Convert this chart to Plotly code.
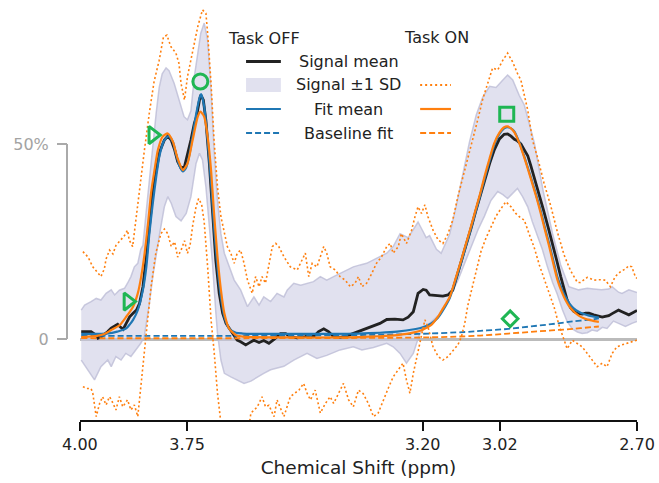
import plotly.graph_objects as go

# ---------------- data (chemical shift in ppm, signal in % ) ----------------
off_mean = [(3.997,1.9),(3.985,2.0),(3.974,1.9),(3.962,1.0),(3.958,0.2),(3.951,0.5),(3.947,0.8),(3.939,1.5),
 (3.935,1.9),(3.927,2.8),(3.919,3.3),(3.912,3.8),(3.907,3.2),(3.899,2.5),(3.892,4.0),(3.884,5.7),(3.876,6.6),
 (3.868,7.4),(3.861,9.1),(3.853,13.4),(3.845,21.1),(3.838,29.7),(3.830,37.4),(3.822,43.3),(3.814,48.0),
 (3.803,51.0),(3.795,52.0),(3.787,51.0),(3.779,48.5),(3.772,45.5),(3.764,43.8),(3.756,44.2),(3.749,47.2),
 (3.741,51.0),(3.733,55.3),(3.728,57.0),(3.721,61.3),(3.718,62.6),(3.712,61.3),(3.706,56.0),(3.698,45.0),
 (3.691,32.2),(3.683,20.3),(3.675,11.7),(3.667,6.6),(3.659,4.0),(3.648,2.2),(3.640,0.8),(3.633,-0.3),
 (3.625,-0.7),(3.617,-1.2),(3.613,-1.5),(3.605,-1.0),(3.594,-0.3),(3.582,-0.9),(3.571,-0.4),(3.559,-1.1),
 (3.547,-0.1),(3.532,1.4),(3.520,1.4),(3.509,0.6),(3.493,0.3),(3.474,0.6),(3.462,1.0),(3.455,0.6),(3.443,1.9),
 (3.431,2.6),(3.420,1.9),(3.408,0.6),(3.393,0.4),(3.377,0.8),(3.362,1.4),(3.346,2.1),(3.331,2.7),(3.315,3.3),
 (3.300,4.0),(3.284,5.0),(3.276,5.0),(3.265,5.1),(3.246,4.9),(3.234,5.6),(3.222,7.0),(3.211,11.7),(3.199,12.7),
 (3.192,12.5),(3.184,11.3),(3.168,11.1),(3.153,11.0),(3.141,11.3),(3.130,12.5),(3.122,15.5),(3.110,19.8),
 (3.099,24.0),(3.087,28.5),(3.077,32.5),(3.066,36.8),(3.056,40.8),(3.044,45.0),(3.033,48.5),(3.021,51.3),
 (3.010,52.5),(3.002,52.6),(2.994,52.0),(2.986,51.2),(2.979,50.8),(2.971,50.0),(2.963,48.5),(2.955,47.0),
 (2.948,44.5),(2.940,41.6),(2.929,37.5),(2.918,33.0),(2.907,28.5),(2.897,24.5),(2.887,20.0),(2.878,16.0),
 (2.870,12.5),(2.863,10.0),(2.855,8.0),(2.847,7.0),(2.839,6.6),(2.828,6.4),(2.820,6.6),(2.812,6.6),(2.801,6.2),
 (2.793,5.9),(2.781,5.6),(2.774,5.8),(2.766,6.0),(2.758,6.5),(2.751,7.0),(2.743,7.4),(2.735,7.0),(2.727,6.6),
 (2.719,6.2),(2.712,6.6),(2.704,7.0),(2.700,7.3)]

off_sd_hi = [(3.997,7.4),(3.989,8.7),(3.974,9.6),(3.962,10.4),(3.951,10.0),(3.939,11.7),(3.927,12.6),(3.919,11.3),
 (3.908,12.5),(3.896,13.0),(3.889,14.3),(3.881,16.0),(3.873,18.5),(3.865,19.4),(3.858,23.0),(3.853,24.0),
 (3.845,33.0),(3.838,41.0),(3.830,50.0),(3.822,58.0),(3.815,64.5),(3.808,68.0),(3.799,69.5),(3.792,68.8),
 (3.780,65.5),(3.769,61.5),(3.757,57.0),(3.749,56.2),(3.741,58.5),(3.733,67.3),(3.725,73.3),(3.718,78.4),
 (3.710,81.0),(3.702,76.7),(3.694,63.8),(3.687,48.5),(3.679,35.6),(3.671,27.0),(3.663,22.0),(3.652,18.5),
 (3.640,15.1),(3.625,12.6),(3.609,8.3),(3.594,10.8),(3.582,8.7),(3.571,10.8),(3.555,9.6),(3.540,11.7),
 (3.524,10.8),(3.516,12.6),(3.501,14.3),(3.485,13.8),(3.470,14.3),(3.455,14.7),(3.439,16.0),(3.424,15.1),
 (3.408,16.0),(3.393,16.8),(3.377,17.7),(3.362,18.5),(3.346,19.0),(3.331,19.4),(3.315,20.3),(3.300,21.1),
 (3.284,22.0),(3.269,23.7),(3.253,27.0),(3.234,26.0),(3.222,28.0),(3.211,30.0),(3.199,27.5),(3.192,26.0),
 (3.184,26.5),(3.168,23.0),(3.157,22.0),(3.145,25.0),(3.137,27.0),(3.122,34.0),(3.106,42.5),(3.091,50.5),
 (3.075,57.5),(3.060,62.0),(3.044,64.8),(3.029,64.5),(3.013,66.4),(3.002,67.7),(2.990,66.4),(2.975,62.5),
 (2.963,60.0),(2.948,54.0),(2.940,50.5),(2.919,38.0),(2.897,27.0),(2.878,19.0),(2.859,13.4),(2.836,12.6),
 (2.816,13.0),(2.801,12.8),(2.783,12.6),(2.766,12.8),(2.758,13.4),(2.743,12.0),(2.735,11.7),(2.719,12.6),
 (2.700,11.9)]

off_sd_lo = [(3.997,-5.4),(3.981,-7.9),(3.966,-10.5),(3.951,-7.1),(3.935,-5.4),(3.927,-7.1),(3.916,-4.5),
 (3.904,-5.4),(3.893,-3.7),(3.881,-4.5),(3.869,-2.8),(3.858,-1.1),(3.850,0.6),(3.845,4.0),(3.838,9.0),
 (3.830,16.0),(3.822,22.0),(3.814,27.0),(3.803,33.9),(3.795,36.5),(3.787,34.8),(3.776,31.4),(3.764,30.3),
 (3.752,32.2),(3.741,36.5),(3.729,45.0),(3.721,47.6),(3.714,45.9),(3.706,39.0),(3.698,29.0),(3.691,20.0),
 (3.683,7.0),(3.679,1.5),(3.671,-5.4),(3.663,-8.8),(3.648,-9.7),(3.633,-10.5),(3.617,-11.4),(3.601,-10.8),
 (3.586,-9.7),(3.571,-8.8),(3.555,-7.9),(3.540,-7.5),(3.524,-7.0),(3.501,-5.4),(3.470,-3.7),(3.447,-5.0),
 (3.424,-4.2),(3.393,-2.8),(3.362,-2.0),(3.342,-2.8),(3.315,-2.2),(3.284,-1.1),(3.269,-2.0),(3.253,-3.7),
 (3.238,-6.2),(3.222,-3.7),(3.207,1.4),(3.192,3.2),(3.176,4.9),(3.164,6.0),(3.145,9.0),(3.133,11.7),
 (3.118,15.0),(3.102,19.5),(3.087,23.7),(3.071,28.0),(3.056,31.5),(3.041,35.5),(3.025,37.8),(3.013,37.0),
 (3.002,36.0),(2.990,37.5),(2.979,38.6),(2.967,36.5),(2.955,33.9),(2.944,30.0),(2.932,26.2),(2.921,23.0),
 (2.909,18.5),(2.897,14.5),(2.886,11.5),(2.874,7.5),(2.863,4.5),(2.851,2.6),(2.839,1.8),(2.828,1.4),
 (2.816,1.6),(2.805,2.3),(2.793,2.0),(2.781,3.0),(2.770,2.7),(2.755,4.6),(2.743,4.0),(2.727,3.2),(2.712,4.0),
 (2.700,4.5)]

off_fit = [(3.997,1.3),(3.98,1.3),(3.96,1.3),(3.94,1.4),(3.93,1.5),(3.92,1.7),(3.91,2.0),(3.90,2.3),(3.892,2.7),
 (3.884,3.7),(3.876,4.9),(3.865,7.4),(3.853,12.6),(3.845,18.5),(3.838,27.0),(3.830,34.8),(3.822,41.6),
 (3.814,47.2),(3.803,51.0),(3.793,52.0),(3.783,50.5),(3.776,47.5),(3.768,44.5),(3.760,43.0),(3.752,44.0),
 (3.745,47.0),(3.737,52.0),(3.729,57.5),(3.721,61.8),(3.717,62.8),(3.710,59.6),(3.702,51.0),(3.694,40.0),
 (3.687,28.8),(3.679,18.5),(3.671,10.8),(3.663,5.7),(3.652,2.7),(3.636,1.6),(3.62,1.4),(3.60,1.3),(3.50,1.3),
 (3.40,1.3),(3.35,1.4),(3.30,1.6),(3.26,1.9),(3.22,2.5),(3.20,3.0),(3.18,4.0),(3.164,5.5),(3.153,7.3),
 (3.137,10.5),(3.122,15.5),(3.110,19.8),(3.099,24.0),(3.087,28.5),(3.077,32.5),(3.066,36.8),(3.056,41.0),
 (3.044,45.7),(3.033,49.8),(3.021,52.6),(3.010,54.0),(3.002,54.3),(2.994,54.0),(2.986,53.2),(2.975,50.5),
 (2.963,46.8),(2.948,41.6),(2.936,37.2),(2.925,33.0),(2.915,28.6),(2.905,24.5),(2.895,20.0),(2.886,16.0),
 (2.876,13.0),(2.867,10.8),(2.857,9.0),(2.847,7.8),(2.836,7.0),(2.824,6.4),(2.812,6.0),(2.800,5.7),(2.789,5.5)]

off_base = [(3.997,0.8),(3.80,0.8),(3.60,0.8),(3.50,0.85),(3.40,0.95),(3.30,1.1),(3.20,1.35),(3.10,1.8),
 (3.05,2.2),(3.00,2.6),(2.95,3.2),(2.90,3.8),(2.85,4.5),(2.80,5.1),(2.789,5.3)]

on_sd_hi = [(3.993,22.4),(3.981,21.0),(3.970,18.5),(3.958,16.8),(3.951,16.0),(3.943,18.0),(3.939,20.5),
 (3.931,22.8),(3.923,21.8),(3.916,24.0),(3.904,25.4),(3.896,26.5),(3.889,27.9),(3.885,25.4),(3.877,23.7),
 (3.869,31.0),(3.861,39.0),(3.850,48.0),(3.838,58.0),(3.827,66.0),(3.815,71.5),(3.805,77.5),(3.797,77.9),
 (3.788,75.0),(3.776,73.3),(3.769,70.7),(3.764,65.5),(3.756,61.3),(3.749,67.3),(3.737,74.1),(3.725,80.1),
 (3.714,84.4),(3.706,83.5),(3.702,78.4),(3.694,65.5),(3.687,51.0),(3.679,39.0),(3.671,31.4),(3.663,27.0),
 (3.656,23.7),(3.648,22.0),(3.640,19.4),(3.633,22.0),(3.625,22.8),(3.617,19.4),(3.609,15.1),(3.598,11.7),
 (3.590,16.0),(3.582,13.4),(3.575,16.0),(3.567,14.3),(3.559,19.4),(3.551,23.7),(3.543,24.5),(3.536,23.7),
 (3.524,21.1),(3.509,18.5),(3.493,17.7),(3.482,20.3),(3.474,22.0),(3.466,16.0),(3.458,19.4),(3.447,18.5),
 (3.439,21.1),(3.431,23.7),(3.424,22.0),(3.416,18.5),(3.404,17.7),(3.393,16.0),(3.381,15.1),(3.369,13.4),
 (3.358,14.3),(3.350,16.0),(3.342,13.4),(3.331,14.3),(3.319,16.8),(3.308,19.4),(3.296,21.1),(3.284,23.7),
 (3.276,24.5),(3.269,22.0),(3.257,23.7),(3.250,27.0),(3.238,24.5),(3.226,27.9),(3.218,31.4),(3.211,33.9),
 (3.203,32.2),(3.195,34.4),(3.188,31.4),(3.176,27.9),(3.164,25.4),(3.153,24.5),(3.141,27.0),(3.130,30.5),
 (3.118,36.5),(3.106,41.5),(3.095,46.5),(3.083,51.5),(3.071,56.5),(3.060,61.5),(3.048,66.0),(3.037,69.5),
 (3.025,69.0),(3.013,71.5),(3.002,73.3),(2.990,71.0),(2.979,68.1),(2.971,66.4),(2.955,58.7),(2.944,51.0),
 (2.932,46.5),(2.917,40.0),(2.901,34.0),(2.886,27.5),(2.870,21.5),(2.855,17.5),(2.839,14.5),(2.832,14.5),
 (2.816,15.8),(2.801,15.1),(2.785,15.2),(2.774,15.1),(2.762,13.4),(2.751,16.0),(2.739,17.2),(2.727,18.0),
 (2.719,18.8),(2.712,18.5),(2.704,16.0),(2.700,15.5)]

on_sd_lo = [(3.993,-12.2),(3.985,-12.7),(3.974,-12.7),(3.970,-13.9),(3.962,-19.9),(3.954,-16.5),(3.947,-14.8),
 (3.939,-16.9),(3.931,-14.8),(3.927,-15.5),(3.916,-18.2),(3.908,-14.8),(3.900,-17.4),(3.889,-15.6),
 (3.881,-18.2),(3.873,-16.9),(3.865,-19.9),(3.858,-11.4),(3.850,-3.7),(3.842,4.9),(3.834,13.4),(3.823,22.0),
 (3.811,27.0),(3.803,28.2),(3.795,27.0),(3.787,23.7),(3.779,24.9),(3.772,21.0),(3.764,22.8),(3.756,25.2),
 (3.749,22.0),(3.743,24.0),(3.737,29.0),(3.729,33.9),(3.723,36.0),(3.716,34.5),(3.710,30.0),(3.702,18.5),
 (3.694,4.9),(3.687,-3.0),(3.679,-13.9),(3.671,-21.5),(3.660,-28.0),(3.640,-31.0),(3.620,-27.0),(3.605,-22.0),
 (3.601,-19.0),(3.586,-17.4),(3.575,-14.8),(3.567,-17.4),(3.559,-17.0),(3.547,-19.9),(3.540,-15.6),
 (3.524,-19.9),(3.509,-14.8),(3.489,-13.1),(3.478,-11.4),(3.470,-13.9),(3.462,-15.6),(3.451,-13.1),
 (3.439,-19.0),(3.427,-16.5),(3.416,-14.8),(3.408,-16.5),(3.396,-13.9),(3.385,-11.4),(3.373,-15.6),
 (3.362,-17.4),(3.350,-13.1),(3.339,-14.0),(3.327,-16.5),(3.315,-19.9),(3.304,-19.0),(3.292,-15.6),
 (3.280,-12.5),(3.269,-9.7),(3.257,-7.9),(3.246,-6.2),(3.238,-10.5),(3.230,-13.9),(3.222,-8.8),(3.214,-4.5),
 (3.203,0.6),(3.195,4.9),(3.188,3.2),(3.176,-2.0),(3.164,-4.5),(3.153,-5.4),(3.141,-4.5),(3.130,-3.0),
 (3.118,-1.5),(3.110,0.5),(3.102,4.0),(3.095,8.5),(3.087,12.0),(3.075,17.0),(3.064,22.5),(3.052,26.0),
 (3.041,28.5),(3.029,31.5),(3.017,33.5),(3.006,35.2),(2.994,33.9),(2.983,32.2),(2.971,31.0),(2.963,30.5),
 (2.952,27.0),(2.940,23.5),(2.928,19.0),(2.917,15.5),(2.905,11.5),(2.893,8.0),(2.882,3.5),(2.870,-0.5),
 (2.863,-2.5),(2.851,-0.3),(2.839,-1.1),(2.828,-2.0),(2.816,-3.7),(2.805,-5.4),(2.793,-7.1),(2.781,-6.2),
 (2.770,-7.1),(2.758,-3.7),(2.747,-2.0),(2.735,-1.5),(2.723,-1.1),(2.712,-0.7),(2.700,-0.3)]

on_fit = [(3.997,0.5),(3.98,0.6),(3.96,0.8),(3.943,1.3),(3.927,2.3),(3.907,3.6),(3.892,5.7),(3.876,8.3),
 (3.865,11.7),(3.857,16.0),(3.849,22.0),(3.841,29.7),(3.834,37.4),(3.826,43.3),(3.818,48.5),(3.807,51.9),
 (3.795,52.7),(3.783,50.6),(3.772,46.3),(3.760,43.3),(3.749,45.0),(3.737,51.0),(3.725,57.0),(3.719,58.3),
 (3.710,57.0),(3.702,51.9),(3.694,43.3),(3.687,32.2),(3.679,21.1),(3.671,12.6),(3.663,6.6),(3.652,2.7),
 (3.636,1.0),(3.62,0.6),(3.60,0.5),(3.50,0.4),(3.40,0.4),(3.35,0.5),(3.30,0.7),(3.26,1.0),(3.22,1.7),
 (3.20,2.4),(3.18,3.6),(3.164,5.8),(3.153,7.8),(3.137,10.8),(3.122,16.0),(3.110,20.3),(3.099,24.5),
 (3.087,29.0),(3.077,33.0),(3.066,37.3),(3.056,41.6),(3.044,46.3),(3.033,50.2),(3.021,52.9),(3.010,54.3),
 (3.002,54.5),(2.994,54.0),(2.986,53.0),(2.975,50.3),(2.963,46.5),(2.948,41.2),(2.936,36.8),(2.925,32.4),
 (2.915,28.0),(2.905,23.8),(2.895,19.2),(2.886,15.3),(2.876,12.2),(2.867,10.0),(2.857,8.2),(2.847,7.0),
 (2.836,6.0),(2.824,5.3),(2.812,4.9),(2.800,4.6),(2.789,4.4)]

on_base = [(3.997,0.2),(3.60,0.2),(3.40,0.25),(3.30,0.3),(3.20,0.4),(3.10,0.7),(3.05,1.0),(3.00,1.4),
 (2.95,1.8),(2.90,2.2),(2.85,2.6),(2.80,3.1),(2.789,3.2)]

peak_ppm = [3.888, 3.830, 3.719, 3.004, 2.996]
peak_pct = [9.6, 52.3, 66.0, 57.6, 5.2]
peak_symbols = ["triangle-right-open", "triangle-right-open", "circle-open", "square-open", "diamond-open"]
peak_sizes = [15, 15, 15, 14, 12]

x_ticks = [4.00, 3.75, 3.20, 3.02, 2.70]
x_tick_text = ["4.00", "3.75", "3.20", "3.02", "2.70"]
y_ticks = [0, 50]
y_tick_text = ["0", "50%"]

legend_rows = ["Signal mean", "Signal \u00b11 SD", "Fit mean", "Baseline fit"]
legend_headers = ["Task OFF", "Task ON"]

# ---------------- styling ----------------
BLACK = "#222222"
BLUE = "#1f77b4"
ORANGE = "#ff7f0e"
GREEN = "#1fb653"
BAND_FILL = "rgba(200,200,225,0.55)"
BAND_EDGE = "rgba(185,185,212,0.75)"
GREY = "#aaaaaa"

W, H = 659, 483
ML, MR, MT, MB = 67, 19, 4, 63
PW, PH = W - ML - MR, H - MT - MB


def xs(series):
    return [p[0] for p in series]


def ys(series):
    return [p[1] for p in series]


def fx(px):
    return (px - ML) / PW


def fy(py):
    return (H - MB - py) / PH


fig = go.Figure()

# SD band (Task OFF)
fig.add_trace(go.Scatter(
    x=xs(off_sd_hi) + xs(off_sd_lo)[::-1], y=ys(off_sd_hi) + ys(off_sd_lo)[::-1],
    fill="toself", fillcolor=BAND_FILL, line=dict(width=0), mode="lines", hoverinfo="skip"))
for s in (off_sd_hi, off_sd_lo):
    fig.add_trace(go.Scatter(x=xs(s), y=ys(s), mode="lines",
                             line=dict(color=BAND_EDGE, width=1.5)))

# Task OFF signal mean, fit, baseline
fig.add_trace(go.Scatter(x=xs(off_mean), y=ys(off_mean), mode="lines",
                         line=dict(color=BLACK, width=2.8)))
fig.add_trace(go.Scatter(x=xs(off_fit), y=ys(off_fit), mode="lines",
                         line=dict(color=BLUE, width=2.2, shape="spline", smoothing=0.6)))
fig.add_trace(go.Scatter(x=xs(off_base), y=ys(off_base), mode="lines",
                         line=dict(color=BLUE, width=1.8, dash="6px,3px", shape="spline")))

# Task ON SD (dotted), fit, baseline
for s in (on_sd_hi, on_sd_lo):
    fig.add_trace(go.Scatter(x=xs(s), y=ys(s), mode="lines",
                             line=dict(color=ORANGE, width=1.6, dash="2px,2.5px")))
fig.add_trace(go.Scatter(x=xs(on_fit), y=ys(on_fit), mode="lines",
                         line=dict(color=ORANGE, width=2.2, shape="spline", smoothing=0.6)))
fig.add_trace(go.Scatter(x=xs(on_base), y=ys(on_base), mode="lines",
                         line=dict(color=ORANGE, width=1.8, dash="6px,3px", shape="spline")))

# peak markers
fig.add_trace(go.Scatter(x=peak_ppm, y=peak_pct, mode="markers",
                         marker=dict(symbol=peak_symbols, size=peak_sizes, color=GREEN, opacity=1,
                                     line=dict(color=GREEN, width=3)),
                         cliponaxis=False))

# ---------------- legend (drawn manually, two columns) ----------------
shapes = []
annotations = []
row_y = [61.5, 85, 109, 133]
lx0, lx1 = 247, 282
rx0, rx1 = 422, 453
# headers
annotations.append(dict(x=fx(265), y=fy(38), xref="paper", yref="paper", text=legend_headers[0],
                        showarrow=False, xanchor="center", yanchor="middle", font=dict(size=16, color=BLACK)))
annotations.append(dict(x=fx(438), y=fy(37), xref="paper", yref="paper", text=legend_headers[1],
                        showarrow=False, xanchor="center", yanchor="middle", font=dict(size=16, color=BLACK)))
for label, yy in zip(legend_rows, row_y):
    annotations.append(dict(x=fx(350), y=fy(yy), xref="paper", yref="paper", text=label,
                            showarrow=False, xanchor="center", yanchor="middle",
                            font=dict(size=16, color=BLACK)))
# row 1: signal mean (Task OFF only)
shapes.append(dict(type="line", xref="paper", yref="paper", x0=fx(lx0), x1=fx(lx1), y0=fy(row_y[0]),
                   y1=fy(row_y[0]), line=dict(color=BLACK, width=2.8)))
# row 2: SD patch / dotted
shapes.append(dict(type="rect", xref="paper", yref="paper", x0=fx(lx0), x1=fx(lx1), y0=fy(row_y[1] - 7),
                   y1=fy(row_y[1] + 7), fillcolor=BAND_FILL, line=dict(width=0)))
shapes.append(dict(type="line", xref="paper", yref="paper", x0=fx(rx0), x1=fx(rx1), y0=fy(row_y[1]),
                   y1=fy(row_y[1]), line=dict(color=ORANGE, width=2, dash="2px,3px")))
# row 3: fit mean
shapes.append(dict(type="line", xref="paper", yref="paper", x0=fx(lx0), x1=fx(lx1), y0=fy(row_y[2]),
                   y1=fy(row_y[2]), line=dict(color=BLUE, width=2.2)))
shapes.append(dict(type="line", xref="paper", yref="paper", x0=fx(rx0), x1=fx(rx1), y0=fy(row_y[2]),
                   y1=fy(row_y[2]), line=dict(color=ORANGE, width=2.2)))
# row 4: baseline fit
shapes.append(dict(type="line", xref="paper", yref="paper", x0=fx(lx0), x1=fx(lx1), y0=fy(row_y[3]),
                   y1=fy(row_y[3]), line=dict(color=BLUE, width=1.8, dash="6px,3px")))
shapes.append(dict(type="line", xref="paper", yref="paper", x0=fx(rx0), x1=fx(rx1), y0=fy(row_y[3]),
                   y1=fy(row_y[3]), line=dict(color=ORANGE, width=1.8, dash="6px,3px")))

# offset y spine, bounded between the two ticks
shapes.append(dict(type="line", xref="paper", yref="y", x0=0, x1=0, y0=y_ticks[0], y1=y_ticks[-1],
                   line=dict(color=GREY, width=2)))

# y range: 0 -> 339 px, 50 -> 144 px, plot area from 4 px to 420 px
px_per_pct = (339 - 144) / 50.0
y_min = -(H - MB - 339) / px_per_pct
y_max = y_min + PH / px_per_pct

fig.update_layout(
    width=W, height=H,
    margin=dict(l=ML, r=MR, t=MT, b=MB, pad=0),
    paper_bgcolor="white", plot_bgcolor="white",
    showlegend=False,
    font=dict(family="DejaVu Sans", size=16, color=BLACK),
    shapes=shapes, annotations=annotations,
    xaxis=dict(range=[4.0, 2.7], domain=[(80 - ML) / PW, 1], tickvals=x_ticks, ticktext=x_tick_text,
               ticks="outside", ticklen=9, tickwidth=2, tickcolor="#111111",
               showline=True, linecolor="#111111", linewidth=2, showgrid=False, zeroline=False,
               tickfont=dict(size=16, color=BLACK),
               title=dict(text="Chemical Shift (ppm)", font=dict(size=18.5, color=BLACK), standoff=8)),
    yaxis=dict(range=[y_min, y_max], anchor="free", position=0, showline=False,
               tickvals=y_ticks, ticktext=y_tick_text, ticks="outside", ticklen=10, tickwidth=2,
               ticklabelstandoff=5,
               tickcolor=GREY, tickfont=dict(size=16, color="#a3a3a3"), showgrid=False,
               zeroline=True, zerolinecolor="#bbbbbb", zerolinewidth=2.5),
)

fig.write_html("out.html")
